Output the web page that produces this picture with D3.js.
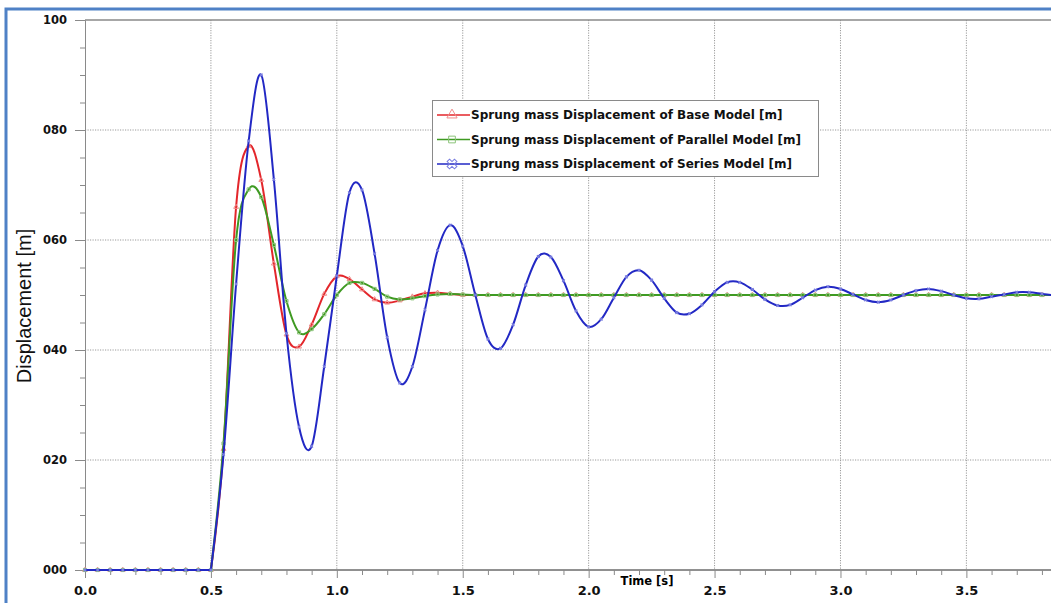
<!DOCTYPE html>
<html>
<head>
<meta charset="utf-8">
<script src="https://cdn.jsdelivr.net/npm/d3@7"></script>
<style>
  body { margin: 0; background: #fff; overflow: hidden; }
  svg { display: block; }
  .grid line { stroke: #9a9a9a; stroke-dasharray: 1.2,1.3; }
  .tick text { font-family: "DejaVu Sans", Verdana, sans-serif; font-weight: bold; fill: #111; }
  .legend text { font-family: "DejaVu Sans", Verdana, sans-serif; font-weight: bold; font-size: 12px; fill: #111; }
</style>
</head>
<body>
<svg id="chart" width="1051" height="603"></svg>
<script>
// sample times [s]
const time = [0.00, 0.05, 0.10, 0.15, 0.20, 0.25, 0.30, 0.35, 0.40, 0.45,
  0.50, 0.55, 0.60, 0.65, 0.70, 0.75, 0.80, 0.85, 0.90, 0.95,
  1.00, 1.05, 1.10, 1.15, 1.20, 1.25, 1.30, 1.35, 1.40, 1.45,
  1.50, 1.55, 1.60, 1.65, 1.70, 1.75, 1.80, 1.85, 1.90, 1.95,
  2.00, 2.05, 2.10, 2.15, 2.20, 2.25, 2.30, 2.35, 2.40, 2.45,
  2.50, 2.55, 2.60, 2.65, 2.70, 2.75, 2.80, 2.85, 2.90, 2.95,
  3.00, 3.05, 3.10, 3.15, 3.20, 3.25, 3.30, 3.35, 3.40, 3.45,
  3.50, 3.55, 3.60, 3.65, 3.70, 3.75, 3.80, 3.85];

// index of the step (t = 0.5 s)
const stepIndex = 10;

// sprung mass displacement [m]
const baseModel = [0, 0, 0, 0, 0, 0, 0, 0, 0, 0,
  0, 0.0220, 0.0660, 0.0771, 0.0709, 0.0557, 0.0428, 0.0406, 0.0446, 0.0502,
  0.0534, 0.0529, 0.0510, 0.0492, 0.0486, 0.0490, 0.0497, 0.0503, 0.0504, 0.0502,
  0.0500, 0.0500, 0.0500, 0.0500, 0.0500, 0.0500, 0.0500, 0.0500, 0.0500, 0.0500,
  0.0500, 0.0500, 0.0500, 0.0500, 0.0500, 0.0500, 0.0500, 0.0500, 0.0500, 0.0500,
  0.0500, 0.0500, 0.0500, 0.0500, 0.0500, 0.0500, 0.0500, 0.0500, 0.0500, 0.0500,
  0.0500, 0.0500, 0.0500, 0.0500, 0.0500, 0.0500, 0.0500, 0.0500, 0.0500, 0.0500,
  0.0500, 0.0500, 0.0500, 0.0500, 0.0500, 0.0500, 0.0500, 0.0500];

const parallelModel = [0, 0, 0, 0, 0, 0, 0, 0, 0, 0,
  0, 0.0230, 0.0600, 0.0692, 0.0678, 0.0591, 0.0489, 0.0432, 0.0438, 0.0465,
  0.0500, 0.0522, 0.0522, 0.0511, 0.0497, 0.0492, 0.0494, 0.0498, 0.0501, 0.0502,
  0.0501, 0.0500, 0.0500, 0.0500, 0.0500, 0.0500, 0.0500, 0.0500, 0.0500, 0.0500,
  0.0500, 0.0500, 0.0500, 0.0500, 0.0500, 0.0500, 0.0500, 0.0500, 0.0500, 0.0500,
  0.0500, 0.0500, 0.0500, 0.0500, 0.0500, 0.0500, 0.0500, 0.0500, 0.0500, 0.0500,
  0.0500, 0.0500, 0.0500, 0.0500, 0.0500, 0.0500, 0.0500, 0.0500, 0.0500, 0.0500,
  0.0500, 0.0500, 0.0500, 0.0500, 0.0500, 0.0500, 0.0500, 0.0500];

const seriesModel = [0, 0, 0, 0, 0, 0, 0, 0, 0, 0,
  0, 0.0210, 0.0520, 0.0780, 0.0900, 0.0710, 0.0430, 0.0260, 0.0225, 0.0370,
  0.0535, 0.0686, 0.0691, 0.0575, 0.0423, 0.0340, 0.0370, 0.0473, 0.0581, 0.0627,
  0.0589, 0.0500, 0.0420, 0.0403, 0.0446, 0.0518, 0.0570, 0.0569, 0.0526, 0.0471,
  0.0442, 0.0456, 0.0495, 0.0533, 0.0545, 0.0527, 0.0494, 0.0468, 0.0466, 0.0482,
  0.0506, 0.0523, 0.0523, 0.0510, 0.0492, 0.0481, 0.0482, 0.0495, 0.0509, 0.0515,
  0.0511, 0.0501, 0.0491, 0.0487, 0.0491, 0.0500, 0.0508, 0.0511, 0.0507, 0.0500,
  0.0494, 0.0493, 0.0497, 0.0501, 0.0505, 0.0505, 0.0502, 0.0499];

const seriesNames = [
  "Sprung mass Displacement of Base Model [m]",
  "Sprung mass Displacement of Parallel Model [m]",
  "Sprung mass Displacement of Series Model [m]"
];

// axis ticks (labels as they show in the cropped picture)
const xMajorTicks = [0.0, 0.5, 1.0, 1.5, 2.0, 2.5, 3.0, 3.5];
const xMinorTicks = [0.1, 0.2, 0.3, 0.4, 0.6, 0.7, 0.8, 0.9, 1.1, 1.2, 1.3, 1.4,
  1.6, 1.7, 1.8, 1.9, 2.1, 2.2, 2.3, 2.4, 2.6, 2.7, 2.8, 2.9, 3.1, 3.2, 3.3, 3.4,
  3.6, 3.7, 3.8];
const yMajorTicks = [0.00, 0.02, 0.04, 0.06, 0.08, 0.10];
const yTickLabels = ["000", "020", "040", "060", "080", "100"];
const yMinorTicks = [0.005, 0.010, 0.015, 0.025, 0.030, 0.035, 0.045, 0.050, 0.055,
  0.065, 0.070, 0.075, 0.085, 0.090, 0.095];

const colors = ["#e3262b", "#3f9a22", "#2228c4"];
const markerColors = ["#f08a8a", "#8cc47a", "#7a7ee0"];

const plotLeft = 85, plotTop = 20, plotRight = 1051, plotBottom = 570;

const x = d3.scaleLinear().domain([0, 3.836]).range([plotLeft, plotRight]);
const y = d3.scaleLinear().domain([0, 0.1]).range([plotBottom, plotTop]);

const svg = d3.select("#chart");

// blue frame round the picture
svg.append("rect")
  .attr("x", 6).attr("y", 9)
  .attr("width", 1200).attr("height", 800)
  .attr("fill", "none")
  .attr("stroke", "#4f81c6")
  .attr("stroke-width", 3);

// grid
const grid = svg.append("g").attr("class", "grid");
grid.selectAll(".vg")
  .data(xMajorTicks.filter(d => d > 0))
  .enter().append("line")
  .attr("x1", d => x(d)).attr("x2", d => x(d))
  .attr("y1", plotTop).attr("y2", plotBottom);
grid.selectAll(".hg")
  .data(yMajorTicks.filter(d => d > 0 && d < 0.1))
  .enter().append("line")
  .attr("x1", plotLeft).attr("x2", plotRight)
  .attr("y1", d => y(d)).attr("y2", d => y(d));

// top border of the plot
svg.append("line")
  .attr("x1", plotLeft).attr("x2", plotRight)
  .attr("y1", plotTop).attr("y2", plotTop)
  .attr("stroke", "#8a8a8a").attr("stroke-width", 1.5);

// y axis
const yAxis = svg.append("g")
  .attr("transform", "translate(" + plotLeft + ",0)")
  .call(d3.axisLeft(y).tickValues(yMajorTicks).tickSize(10).tickPadding(8)
    .tickFormat((d, i) => yTickLabels[i]));
yAxis.select(".domain").attr("stroke", "#8a8a8a");
yAxis.selectAll(".tick line").attr("stroke", "#8a8a8a");
yAxis.selectAll(".tick text").style("font-size", "11.5px");

svg.append("g")
  .attr("transform", "translate(" + plotLeft + ",0)")
  .call(d3.axisLeft(y).tickValues(yMinorTicks).tickSize(5).tickFormat(""))
  .call(g => g.select(".domain").remove())
  .selectAll(".tick line").attr("stroke", "#8a8a8a");

// x axis
const xAxis = svg.append("g")
  .attr("transform", "translate(0," + plotBottom + ")")
  .call(d3.axisBottom(x).tickValues(xMajorTicks).tickSize(8).tickPadding(8)
    .tickFormat(d3.format(".1f")));
xAxis.select(".domain").attr("stroke", "#222").attr("d", "M" + plotLeft + ",0H" + plotRight);
xAxis.selectAll(".tick line").attr("stroke", "#8a8a8a");
xAxis.selectAll(".tick text").style("font-size", "13px");

svg.append("g")
  .attr("transform", "translate(0," + plotBottom + ")")
  .call(d3.axisBottom(x).tickValues(xMinorTicks).tickSize(5).tickFormat(""))
  .call(g => g.select(".domain").remove())
  .selectAll(".tick line").attr("stroke", "#8a8a8a");

// axis titles
svg.append("text")
  .attr("x", 647).attr("y", 585)
  .attr("text-anchor", "middle")
  .style("font-family", "'DejaVu Sans', Verdana, sans-serif")
  .style("font-weight", "bold")
  .style("font-size", "11.5px")
  .text("Time [s]");

svg.append("text")
  .attr("transform", "translate(31,306) rotate(-90)")
  .attr("text-anchor", "middle")
  .style("font-family", "'Liberation Sans', Arial, sans-serif")
  .style("font-size", "20px")
  .attr("fill", "#111")
  .text("Displacement [m]");

// lines: flat part before the step drawn straight, response smoothed
const allSeries = [baseModel, parallelModel, seriesModel];
const flatLine = d3.line()
  .x(d => x(d[0]))
  .y(d => y(d[1]));
const smoothLine = d3.line()
  .x(d => x(d[0]))
  .y(d => y(d[1]))
  .curve(d3.curveCatmullRom.alpha(0));

const symbols = [d3.symbolTriangle, d3.symbolSquare, d3.symbolCross];

allSeries.forEach((values, k) => {
  const pts = values.map((v, i) => [time[i], v]);
  const g = svg.append("g");
  g.append("path")
    .attr("fill", "none")
    .attr("stroke", colors[k])
    .attr("stroke-width", 2)
    .attr("d", flatLine(pts.slice(0, stepIndex + 1)));
  g.append("path")
    .attr("fill", "none")
    .attr("stroke", colors[k])
    .attr("stroke-width", 2)
    .attr("d", smoothLine(pts.slice(stepIndex)));

  g.selectAll(".mk")
    .data(pts)
    .enter().append("path")
    .attr("class", "mk")
    .attr("transform", d => "translate(" + x(d[0]) + "," + y(d[1]) + ")" + (k === 2 ? " rotate(45)" : ""))
    .attr("d", d3.symbol(symbols[k]).size(k === 2 ? 8 : 10))
    .attr("fill", k === 2 ? markerColors[k] : "none")
    .attr("stroke", k === 2 ? "none" : markerColors[k])
    .attr("stroke-width", 1);
});

// legend
const legend = svg.append("g").attr("class", "legend");
legend.append("rect")
  .attr("x", 432.5).attr("y", 100.5)
  .attr("width", 386).attr("height", 76)
  .attr("fill", "#fff")
  .attr("stroke", "#8a8a8a");

seriesNames.forEach((name, k) => {
  const cy = 115 + k * 24.5;
  legend.append("line")
    .attr("x1", 437).attr("x2", 470)
    .attr("y1", cy).attr("y2", cy)
    .attr("stroke", colors[k]).attr("stroke-width", 1.3);
  legend.append("path")
    .attr("transform", "translate(452," + cy + ")" + (k === 2 ? " rotate(45)" : ""))
    .attr("d", d3.symbol(symbols[k]).size(k === 2 ? 60 : 45))
    .attr("fill", "none")
    .attr("stroke", markerColors[k])
    .attr("stroke-width", 1);
  legend.append("text")
    .attr("x", 471).attr("y", cy)
    .attr("dy", "0.35em")
    .text(name);
});
</script>
</body>
</html>
